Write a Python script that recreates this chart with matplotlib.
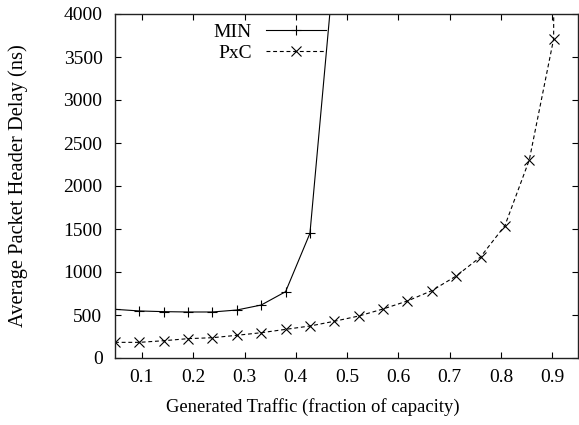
import matplotlib
matplotlib.use("Agg")
import matplotlib.pyplot as plt

# Data
load = [0.0475, 0.095, 0.1425, 0.19, 0.2375, 0.285, 0.3325, 0.38, 0.4275, 0.475,
        0.5225, 0.57, 0.6175, 0.665, 0.7125, 0.76, 0.8075, 0.855, 0.9025, 0.95]
min_delay = [566, 547, 539, 535, 535, 558, 616, 771, 1450, 4580]
pxc_delay = [182, 182, 201, 225, 236, 264, 294, 333, 372, 427,
             488, 570, 663, 783, 953, 1175, 1539, 2302, 3710, 100000]

xticks = [0.1, 0.2, 0.3, 0.4, 0.5, 0.6, 0.7, 0.8, 0.9]
yticks = [0, 500, 1000, 1500, 2000, 2500, 3000, 3500, 4000]

plt.rcParams['font.family'] = ['Liberation Serif', 'DejaVu Serif']
FS_TICK = 14
FS_LEG = 14

fig = plt.figure(figsize=(5.79, 4.25), dpi=100)
ax = fig.add_axes([115/579, (425-358)/425, (578-115)/579, (358-14)/425])

ax.plot(load[:len(min_delay)], min_delay, color='black', lw=0.8,
        marker='+', ms=7, mew=0.8, label='MIN')
ax.plot(load[:len(pxc_delay)], pxc_delay, color='black', lw=0.8,
        linestyle=(0, (3.5, 2.5)), marker='x', ms=7.5, mew=0.8, label='PxC')

ax.set_xlim(0.0475, 0.95)
ax.set_ylim(0, 4000)
ax.set_xticks(xticks)
ax.set_xticklabels([f"{t:.1f}" for t in xticks])
ax.set_yticks(yticks)
ax.set_yticklabels([str(t) for t in yticks])

ax.tick_params(direction='in', length=4, width=0.8, top=True, right=True,
               labelsize=FS_TICK, colors='black')
ax.tick_params(axis='y', pad=9)
ax.tick_params(axis='x', pad=8)
for s in ax.spines.values():
    s.set_linewidth(1.0)
    s.set_color('#222222')

ax.set_xlabel('Generated Traffic (fraction of capacity)', fontsize=13.4)
ax.xaxis.label.set_verticalalignment('center')
ax.xaxis.set_label_coords((312.5-115)/463, -(407-358)/344)
ax.set_ylabel('Average Packet Header Delay (ns)', fontsize=14.8)
ax.yaxis.label.set_verticalalignment('center')
ax.yaxis.set_label_coords((18-115)/463, 0.5)

leg = ax.legend(loc='upper right', bbox_to_anchor=((326-115)/463, 1.0 - 9/344),
                frameon=False, markerfirst=False, fontsize=FS_LEG,
                handlelength=3.1, handletextpad=0.7, borderpad=0,
                borderaxespad=0, labelspacing=0.17)

fig.savefig('out.png', dpi=100)
